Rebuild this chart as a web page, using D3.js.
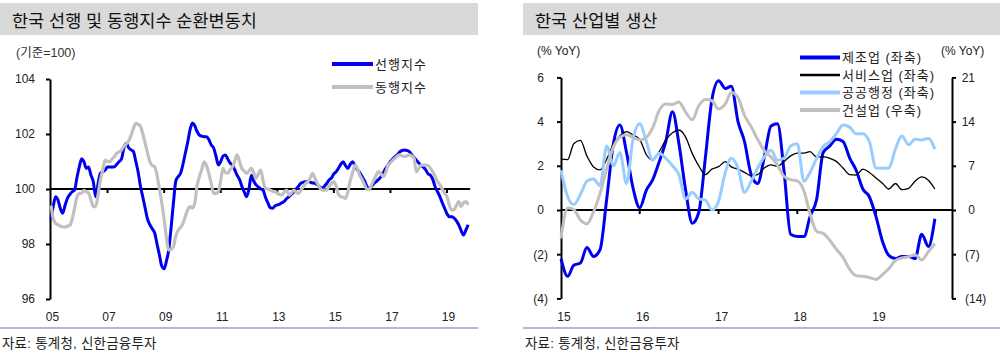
<!DOCTYPE html>
<html><head><meta charset="utf-8">
<script src="https://cdn.jsdelivr.net/npm/d3@7"></script>
<style>
body{margin:0;background:#fff}
svg{display:block}
text{font-family:"Liberation Sans","Noto Sans CJK KR",Arial,sans-serif}
</style>
</head><body>
<svg id="c" width="1000" height="355"></svg>
<script>
// ---------- LEFT CHART DATA (monthly, 2005-01 .. 2019-10) ----------
const leftTitle = "한국 선행 및 동행지수 순환변동치";
const leftUnit = "(기준=100)";
const leftSeriesNames = ["선행지수", "동행지수"];
const leftYTicks = [96, 98, 100, 102, 104];
const leftXTickYears = [2005, 2007, 2009, 2011, 2013, 2015, 2017, 2019];
const leftXTickLabels = ["05", "07", "09", "11", "13", "15", "17", "19"];
const leading = [
  98.9, 99.4, 99.72, 99.6, 99.3, 99.12, 99.4, 99.66, 99.8, 99.9, 99.96, 100.4,
  100.8, 101.1, 101.0, 100.75, 100.8, 100.5, 100.27, 99.72, 100.2, 100.57, 100.63, 100.69,
  100.8, 100.8, 100.8, 100.81, 100.9, 101.0, 101.1, 101.5, 101.66, 101.5, 101.42, 101.36,
  101.0, 100.6, 100.1, 99.7, 99.3, 98.9, 98.7, 98.55, 98.4, 98.0, 97.6, 97.2,
  97.1, 97.4, 97.78, 98.6, 99.5, 100.3, 100.45, 100.57, 100.9, 101.3, 101.7, 102.15,
  102.4, 102.3, 102.1, 101.96, 101.92, 101.9, 101.9, 101.8, 101.6, 101.5, 101.2, 100.87,
  101.0, 101.2, 101.24, 101.1, 100.95, 100.87, 100.7, 100.5, 100.35, 100.1, 99.9, 99.72,
  100.0, 100.5, 100.3, 100.15, 100.08, 100.0, 99.96, 99.7, 99.5, 99.32, 99.3, 99.38,
  99.42, 99.45, 99.5, 99.55, 99.65, 99.72, 99.8, 99.9, 100.0, 100.1, 100.21, 100.24,
  100.26, 100.27, 100.25, 100.22, 100.21, 100.15, 100.08, 100.02, 100.1, 100.2, 100.33, 100.4,
  100.55, 100.63, 100.75, 100.9, 100.99, 100.85, 100.75, 100.9, 100.99, 100.85, 100.7, 100.6,
  100.45, 100.3, 100.1, 100.02, 100.1, 100.2, 100.27, 100.35, 100.45, 100.6, 100.75, 100.87,
  101.0, 101.1, 101.18, 101.25, 101.35, 101.4, 101.42, 101.4, 101.36, 101.25, 101.15, 101.05,
  100.95, 100.85, 100.8, 100.7, 100.55, 100.5, 100.35, 100.08, 99.9, 99.72, 99.5, 99.3,
  99.1, 98.99, 98.99, 98.95, 98.85, 98.7, 98.5, 98.33, 98.5, 98.7
];
const coincident = [
  99.4, 98.9, 98.75, 98.7, 98.65, 98.62, 98.62, 98.65, 98.68, 98.9, 99.3, 99.7,
  99.84, 99.85, 99.95, 99.9, 99.85, 99.6, 99.36, 99.36, 99.8, 100.33, 100.7, 101.05,
  101.0, 100.99, 101.1, 101.18, 101.3, 101.35, 101.42, 101.55, 101.65, 101.75, 101.95, 102.2,
  102.39, 102.35, 102.27, 102.0, 101.66, 101.3, 100.99, 100.85, 100.81, 100.5, 100.0, 99.5,
  98.9, 98.2, 97.78, 97.8, 97.9, 98.3, 98.5, 98.6, 98.75, 99.0, 99.24, 99.36,
  99.3, 99.5, 100.1, 100.45, 100.7, 100.99, 100.85, 100.57, 100.2, 99.84, 99.84, 99.9,
  100.3, 100.75, 100.6, 100.57, 100.7, 100.8, 101.0, 101.24, 101.0, 100.75, 100.65, 100.57,
  100.65, 100.75, 100.6, 100.39, 100.55, 100.69, 100.3, 100.02, 100.0, 99.96, 99.92, 99.9,
  99.85, 99.8, 99.78, 99.9, 99.96, 99.78, 99.85, 99.96, 99.88, 99.84, 99.95, 100.08,
  100.2, 100.27, 100.4, 100.57, 100.4, 100.21, 100.05, 99.96, 99.96, 99.96, 100.1, 100.2,
  100.27, 100.1, 99.8, 99.72, 99.7, 99.66, 99.9, 100.3, 100.6, 100.87, 100.75, 100.5,
  100.35, 100.15, 100.0, 99.98, 100.15, 100.33, 100.5, 100.63, 100.55, 100.45, 100.6, 100.87,
  100.95, 101.05, 101.12, 101.2, 101.24, 101.2, 101.18, 101.2, 101.24, 101.2, 101.12, 100.63,
  100.75, 100.87, 100.87, 100.87, 100.85, 100.75, 100.63, 100.45, 100.27, 100.15, 100.0, 99.85,
  99.72, 99.4, 99.24, 99.24, 99.4, 99.54, 99.36, 99.5, 99.54, 99.42
];

// ---------- RIGHT CHART DATA (monthly, 2015-01 .. 2019-10) ----------
const rightTitle = "한국 산업별 생산";
const rightUnit = "(% YoY)";
const rightSeriesNames = ["제조업 (좌축)", "서비스업 (좌축)", "공공행정 (좌축)", "건설업 (우축)"];
const rightYTicksL = [-4, -2, 0, 2, 4, 6];
const rightYTicksR = [-14, -7, 0, 7, 14, 21];
const rightXTickYears = [2015, 2016, 2017, 2018, 2019];
const rightXTickLabels = ["15", "16", "17", "18", "19"];
const manufacturing = [
  -2.2, -3.0, -2.5, -2.4, -1.7, -2.1, -1.8, 0.5, 3.0, 3.85, 2.6, 1.0,
  0.1, 0.9, 1.36, 2.2, 3.1, 4.45, 3.0, 0.9, -0.6, -0.1, 2.4, 5.0,
  5.85, 5.5, 5.6, 4.0, 3.1, 1.6, 1.2, 2.4, 3.8, 3.9, 1.7, -1.1,
  -1.2, -1.2, -0.3, 0.5, 2.6, 2.9, 3.2, 3.1, 2.35, 1.8, 0.95, 0.6,
  -0.3, -1.45, -2.05, -2.2, -2.1, -2.1, -2.2, -1.1, -1.65, -0.4
];
const services = [
  2.3, 2.28, 3.0, 3.15, 2.45, 1.95, 1.82, 2.3, 3.0, 3.35, 3.55, 3.4,
  3.2, 2.5, 2.26, 2.65, 3.17, 3.5, 3.62, 3.3, 2.55, 2.0, 1.6, 1.85,
  1.96, 2.19, 1.95, 1.85, 1.7, 1.55, 1.6, 1.9, 2.04, 1.98, 2.2, 2.45,
  2.57, 2.57, 2.64, 2.4, 2.4, 2.34, 2.2, 1.9, 1.6, 1.58, 1.85, 1.7,
  1.45, 1.2, 0.95, 1.2, 0.92, 0.98, 1.3, 1.5, 1.35, 0.95
];
const publicAdmin = [
  1.8, 0.6, 0.25, 0.7, 1.3, 1.4, 1.1, 2.9, 2.0, 2.6, 1.2, 3.2,
  3.9, 3.1, 2.26, 2.57, 2.34, 2.0, 1.6, 0.5, 0.8, 0.5, 0.45, 0.0,
  0.4, 1.7, 2.34, 1.9, 0.8, 1.3, 1.9, 2.4, 2.7, 2.25, 2.35, 2.9,
  3.0, 1.3, 1.7, 2.35, 2.87, 3.09, 3.45, 3.85, 3.75, 3.45, 3.45, 3.1,
  1.9, 1.89, 1.9, 2.75, 3.35, 2.95, 3.2, 3.17, 3.24, 2.75
];
const construction = [
  -4.5, 0.3, 0.1, -1.6, -2.2, -0.3, 2.64, 6.5, 10.0, 11.5, 11.9, 11.5,
  11.1, 11.5, 13.0, 15.8, 16.8, 16.7, 17.1, 15.5, 14.3, 16.5, 17.5, 17.3,
  16.0, 16.8, 18.6, 17.8, 15.0, 13.2, 11.2, 9.4, 8.4, 7.1, 5.3, 4.8,
  4.6, 3.0, -0.6, -3.4, -3.7, -4.8, -6.2, -7.5, -9.4, -10.4, -10.5, -10.7,
  -11.0, -10.2, -9.3, -8.0, -7.6, -7.4, -7.1, -7.9, -6.6, -5.3
];
const sourceText = "자료: 통계청, 신한금융투자";

// ---------- DRAWING ----------
const svg = d3.select("#c");
const FONT = '"Liberation Sans","Noto Sans CJK KR",Arial,sans-serif';

function styleAxis(g) {
  g.select(".domain").attr("stroke", "#000").attr("stroke-width", 2);
  g.selectAll(".tick line").attr("stroke", "#000").attr("stroke-width", 2);
  g.selectAll(".tick text").attr("fill", "#222").style("font-size", "12px").style("font-family", FONT);
}

function panelFrame(x0, x1, title) {
  svg.append("rect").attr("x", x0).attr("y", 3).attr("width", x1 - x0).attr("height", 32).attr("fill", "#d9d9d9");
  svg.append("text").attr("x", x0 + 12).attr("y", 26.5).attr("fill", "#111")
    .style("font-size", "17.5px").text(title);
  svg.append("line").attr("x1", x0).attr("x2", x1).attr("y1", 328).attr("y2", 328)
    .attr("stroke", "#9a9ade").attr("stroke-width", 1.5);
  svg.append("text").attr("x", x0 + 2).attr("y", 348).attr("fill", "#222")
    .style("font-size", "13.5px").style("letter-spacing", "0.2px").text(sourceText);
}

// ===== LEFT =====
panelFrame(0, 478, leftTitle);
svg.append("text").attr("x", 16).attr("y", 57).attr("fill", "#333").style("font-size", "12.5px").text(leftUnit);

const lDates = d3.timeMonth.range(new Date(2005, 0, 1), new Date(2019, 10, 1));
const lx = d3.scaleTime().domain([new Date(2005, 0, 1), new Date(2019, 0, 1)]).range([51, 447]);
const ly = d3.scaleLinear().domain([96, 104]).range([299, 79]);

const lYAxis = svg.append("g").attr("transform", "translate(50,0)")
  .call(d3.axisLeft(ly).tickValues(leftYTicks).tickSize(4).tickSizeOuter(0).tickPadding(11).tickFormat(d3.format("d")));
styleAxis(lYAxis);

const lEnd = lx(lDates[lDates.length - 1]) + 2;
svg.append("line").attr("x1", 50).attr("x2", lEnd).attr("y1", ly(100)).attr("y2", ly(100))
  .attr("stroke", "#000").attr("stroke-width", 2);
svg.append("g").selectAll("line").data(leftXTickYears.slice(1)).join("line")
  .attr("x1", d => lx(new Date(d, 0, 1))).attr("x2", d => lx(new Date(d, 0, 1)))
  .attr("y1", ly(100)).attr("y2", ly(100) + 4).attr("stroke", "#000").attr("stroke-width", 2);
svg.append("g").selectAll("text").data(leftXTickYears).join("text")
  .attr("x", d => lx(new Date(d, 0, 1)) + 1.5).attr("y", 321).attr("text-anchor", "middle")
  .attr("fill", "#222").style("font-size", "12px")
  .text((d, i) => leftXTickLabels[i]);

const lLine = d3.line().x((d, i) => lx(lDates[i])).y(d => ly(d)).curve(d3.curveMonotoneX);
svg.append("path").datum(leading).attr("d", lLine).attr("fill", "none").attr("stroke", "#0000ee").attr("stroke-width", 3);
svg.append("path").datum(coincident).attr("d", lLine).attr("fill", "none").attr("stroke", "#c0c0c0").attr("stroke-width", 3.2);

const lLeg = [{c: "#0000ee", y: 64}, {c: "#c0c0c0", y: 87}];
lLeg.forEach((l, i) => {
  svg.append("line").attr("x1", 332).attr("x2", 373).attr("y1", l.y).attr("y2", l.y).attr("stroke", l.c).attr("stroke-width", 4);
  svg.append("text").attr("x", 375).attr("y", l.y).attr("dy", "0.36em").attr("fill", "#222")
    .style("font-size", "13px").style("letter-spacing", "1px").text(leftSeriesNames[i]);
});

// ===== RIGHT =====
panelFrame(523, 1000, rightTitle);
svg.append("text").attr("x", 537).attr("y", 55).attr("fill", "#222").style("font-size", "12px").text(rightUnit);
svg.append("text").attr("x", 941).attr("y", 55).attr("fill", "#222").style("font-size", "12px").text(rightUnit);

const rDates = d3.timeMonth.range(new Date(2015, 0, 1), new Date(2019, 10, 1));
const rx = d3.scaleTime().domain([new Date(2015, 0, 1), new Date(2019, 0, 1)]).range([561, 876]);
const ryL = d3.scaleLinear().domain([-4, 6]).range([298.4, 77.4]);
const ryR = d3.scaleLinear().domain([-14, 21]).range([298.4, 77.4]);
const fmtParen = v => v < 0 ? `(${-v})` : `${v}`;

const rYAxisL = svg.append("g").attr("transform", "translate(561,0)")
  .call(d3.axisLeft(ryL).tickValues(rightYTicksL).tickSize(4).tickSizeOuter(0).tickPadding(9).tickFormat(fmtParen));
styleAxis(rYAxisL);
rYAxisL.selectAll(".tick text").attr("dx", d => d < 0 ? 0 : -4);

const rYAxisR = svg.append("g").attr("transform", "translate(952,0)")
  .call(d3.axisRight(ryR).tickValues(rightYTicksR).tickSize(4).tickSizeOuter(0).tickPadding(9).tickFormat(fmtParen));
styleAxis(rYAxisR);
rYAxisR.selectAll(".tick text").attr("text-anchor", d => d < 0 ? "start" : "end")
  .attr("x", d => d < 0 ? 13 : 23);

svg.append("line").attr("x1", 561).attr("x2", 952).attr("y1", ryL(0)).attr("y2", ryL(0))
  .attr("stroke", "#000").attr("stroke-width", 2);
svg.append("g").selectAll("line").data(rightXTickYears.slice(1)).join("line")
  .attr("x1", d => rx(new Date(d, 0, 1))).attr("x2", d => rx(new Date(d, 0, 1)))
  .attr("y1", ryL(0)).attr("y2", ryL(0) + 4).attr("stroke", "#000").attr("stroke-width", 2);
svg.append("g").selectAll("text").data(rightXTickYears).join("text")
  .attr("x", d => rx(new Date(d, 0, 1)) + 3).attr("y", 321).attr("text-anchor", "middle")
  .attr("fill", "#222").style("font-size", "12px")
  .text((d, i) => rightXTickLabels[i]);

const rLineL = d3.line().x((d, i) => rx(rDates[i])).y(d => ryL(d)).curve(d3.curveMonotoneX);
const rLineR = d3.line().x((d, i) => rx(rDates[i])).y(d => ryR(d)).curve(d3.curveMonotoneX);
const rSeries = [
  {data: manufacturing, c: "#0000ee", w: 3, line: rLineL},
  {data: services, c: "#000000", w: 1.3, line: rLineL},
  {data: publicAdmin, c: "#99ccff", w: 3, line: rLineL},
  {data: construction, c: "#c0c0c0", w: 3, line: rLineR}
];
rSeries.forEach(s => {
  svg.append("path").datum(s.data).attr("d", s.line).attr("fill", "none")
    .attr("stroke", s.c).attr("stroke-width", s.w);
});

const rLegY = [57.5, 75, 92.5, 110];
rSeries.forEach((s, i) => {
  svg.append("line").attr("x1", 800).attr("x2", 840).attr("y1", rLegY[i]).attr("y2", rLegY[i])
    .attr("stroke", s.c).attr("stroke-width", s.w === 3 ? 4 : 2.5);
  svg.append("text").attr("x", 842).attr("y", rLegY[i]).attr("dy", "0.36em").attr("fill", "#222")
    .style("font-size", "13px").style("letter-spacing", "1px").text(rightSeriesNames[i]);
});
</script>
</body></html>
